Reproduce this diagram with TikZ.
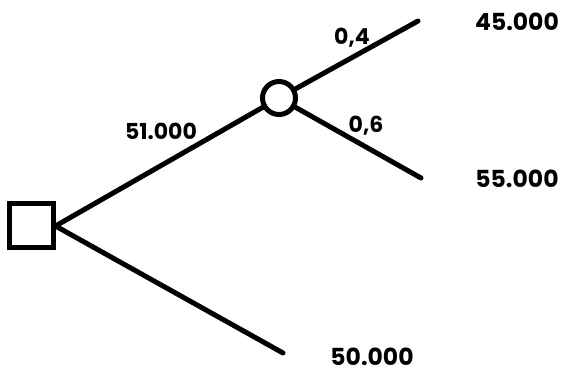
\documentclass[tikz,border=0pt]{standalone}
\usepackage{fontspec}
\setmainfont{Poppins}[BoldFont={* Bold}]
\begin{document}
\begin{tikzpicture}[x=1pt, y=-1pt, line width=5pt]
        \useasboundingbox (0,0) rectangle (565,374);
        \tikzset{val/.style={font=\bfseries\fontsize{23.5}{25}\selectfont, inner sep=0pt},
                 prob/.style={font=\bfseries\fontsize{22}{24}\selectfont, inner sep=0pt}}
        \node[draw, rectangle, minimum size=44pt, inner sep=0pt] (D) at (31, 226) {};
        \node[draw, circle, minimum size=33pt, inner sep=0pt] (C) at (279, 98) {};
        \coordinate (U) at (418, 21);
        \coordinate (M) at (421, 178);
        \coordinate (L) at (283, 353);
        \draw[line cap=round] (D.east) -- (C);
        \draw[line cap=round] (C) -- (U);
        \draw[line cap=round] (C) -- (M);
        \draw[line cap=round] (D.east) -- (L);
        \node[val] (vU) at (517, 22) {45.000};
        \node[val] (vM) at (517, 179) {55.000};
        \node[val] (vL) at (372, 357) {50.000};
        \node[prob] (k) at (161, 131) {51.000};
        \node[prob] (pU) at (352, 38) {0,4};
        \node[prob] (pM) at (366, 126) {0,6};
    \end{tikzpicture}
\end{document}
